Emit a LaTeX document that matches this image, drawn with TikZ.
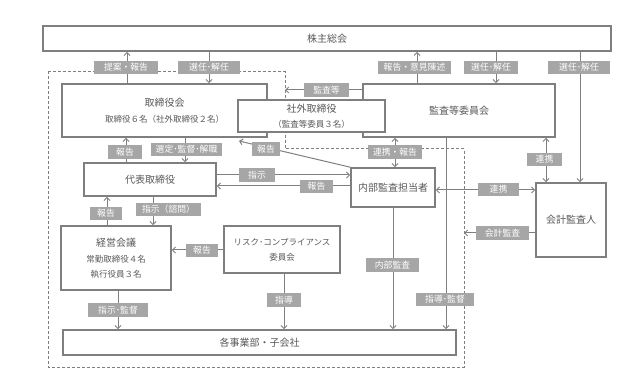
\documentclass[tikz,border=0pt]{standalone}
\usepackage{fontspec}
\setmainfont{Noto Sans CJK JP}
\usetikzlibrary{arrows.meta}
\definecolor{boxc}{HTML}{7F7F7F}
\definecolor{labc}{HTML}{A6A6A6}
\definecolor{txtc}{HTML}{595959}
\newcommand{\mysubf}{\fontsize{8.5}{10}\selectfont}
\tikzset{
 box/.style={draw=boxc, line width=1.6pt, fill=white, text=txtc, inner sep=0pt, font=\fontsize{10}{12}\selectfont, align=center},
 lab/.style={fill=labc, text=white, inner sep=0pt, minimum height=13.5pt, font=\fontsize{8.8}{10}\selectfont},
 conn/.style={draw=boxc, line width=1pt},
 arr/.style={conn, -{Straight Barb[length=3pt,width=6pt]}},
 darr/.style={conn, {Straight Barb[length=3pt,width=6pt]}-{Straight Barb[length=3pt,width=6pt]}},
 dbox/.style={draw=boxc, line width=1pt, dash pattern=on 3pt off 2pt},
}
\begin{document}
\begin{tikzpicture}[x=1pt,y=-1pt]
\useasboundingbox (0,0) rectangle (640,387);
% dashed boundary
\draw[dbox] (48,72) -- (285,72) -- (285,149) -- (464,149) -- (464,367) -- (48,367) -- cycle;
\coordinate (dashA) at (285,90);
\coordinate (dashB) at (464,233);
\coordinate (tbpt) at (239,141);
% boxes
\node[box, minimum width=568, minimum height=25] (sh) at (327,38.5) {株主総会};
\node[box, minimum width=205, minimum height=53] (tb) at (164.5,110.5) {取締役会\\[4pt]{\mysubf 取締役６名（社外取締役２名）}};
\node[box, minimum width=192, minimum height=53] (kc) at (459,110.5) {監査等委員会};
\node[box, minimum width=147, minimum height=32] (sg) at (311.5,116) {社外取締役\\[3pt]{\mysubf （監査等委員３名）}};
\node[box, minimum width=132, minimum height=33] (dh) at (150,179.5) {代表取締役};
\node[box, minimum width=84, minimum height=39] (nb) at (393,187.5) {内部監査担当者};
\node[box, minimum width=70, minimum height=74] (ka) at (571,220) {会計監査人};
\node[box, minimum width=110, minimum height=64] (kk) at (116,258) {経営会議\\[4pt]{\mysubf 常勤取締役４名}\\[3pt]{\mysubf 執行役員３名}};
\node[box, minimum width=116, minimum height=47] (rc) at (282,249.5) {{\mysubf リスク･コンプライアンス}\\[3pt]{\mysubf 委員会}};
\node[box, minimum width=393, minimum height=25] (jg) at (259.5,342.5) {各事業部・子会社};
% connectors
\draw[arr] (tb.north -| 127,0) -- (sh.south -| 127,0);
\draw[arr] (sh.south -| 209,0) -- (tb.north -| 209,0);
\draw[arr] (kc.north -| 417,0) -- (sh.south -| 417,0);
\draw[arr] (sh.south -| 496,0) -- (kc.north -| 496,0);
\draw[arr] (sh.south -| 580,0) -- (ka.north -| 580,0);
\draw[arr] (kc.west |- 0,90) -- (dashA);
\draw[arr] (nb.north west) -- (tbpt);
\draw[arr] (dh.north -| 126,0) -- (tb.south -| 126,0);
\draw[arr] (tb.south -| 185,0) -- (dh.north -| 185,0);
\draw[arr] (dh.east |- 0,175) -- (nb.west |- 0,175);
\draw[arr] (nb.west |- 0,186) -- (dh.east |- 0,186);
\draw[darr] (kc.south -| 395,0) -- (nb.north -| 395,0);
\draw[arr] (kc.south -| 446,0) -- (jg.north -| 446,0);
\draw[darr] (kc.south -| 546,0) -- (ka.north -| 546,0);
\draw[darr] (nb.east |- 0,190) -- (ka.west |- 0,190);
\draw[arr] (ka.west |- 0,233) -- (dashB);
\draw[arr] (nb.south -| 393,0) -- (jg.north -| 393,0);
\draw[arr] (kk.north -| 107,0) -- (dh.south -| 107,0);
\draw[arr] (dh.south -| 153,0) -- (kk.north -| 153,0);
\draw[arr] (rc.west |- 0,250) -- (kk.east |- 0,250);
\draw[arr] (kk.south -| 118,0) -- (jg.north -| 118,0);
\draw[arr] (rc.south -| 284,0) -- (jg.north -| 284,0);
% labels
\node[lab, minimum width=64] (l1) at (126,67.5) {提案・報告};
\node[lab, minimum width=62] (l2) at (209,67.5) {選任･解任};
\node[lab, minimum width=73] (l3) at (414.5,67.5) {報告・意見陳述};
\node[lab, minimum width=54] (l4) at (491,67.5) {選任･解任};
\node[lab, minimum width=62] (l5) at (579,67.5) {選任･解任};
\node[lab, minimum width=45] (l6) at (326.5,90) {監査等};
\node[lab, minimum width=28] (l7) at (266,149) {報告};
\node[lab, minimum width=34] (l8) at (125,152) {報告};
\node[lab, minimum width=71] (l9) at (186.5,149.5) {選定･監督･解職};
\node[lab, minimum width=36] (l10) at (257,175) {指示};
\node[lab, minimum width=33] (l11) at (316.5,186.5) {報告};
\node[lab, minimum width=54] (l12) at (395,152) {連携・報告};
\node[lab, minimum width=58] (l13) at (445,299.5) {指導･監督};
\node[lab, minimum width=35] (l14) at (544.5,159.5) {連携};
\node[lab, minimum width=41] (l15) at (498.5,189.5) {連携};
\node[lab, minimum width=53] (l16) at (502.5,233) {会計監査};
\node[lab, minimum width=53] (l17) at (392.5,265) {内部監査};
\node[lab, minimum width=32] (l18) at (106,213.5) {報告};
\node[lab, minimum width=65] (l19) at (168.5,209.5) {指示（諮問）};
\node[lab, minimum width=32] (l20) at (202,250.5) {報告};
\node[lab, minimum width=60] (l21) at (118,310) {指示･監督};
\node[lab, minimum width=34] (l22) at (284,300) {指導};
\end{tikzpicture}
\end{document}
